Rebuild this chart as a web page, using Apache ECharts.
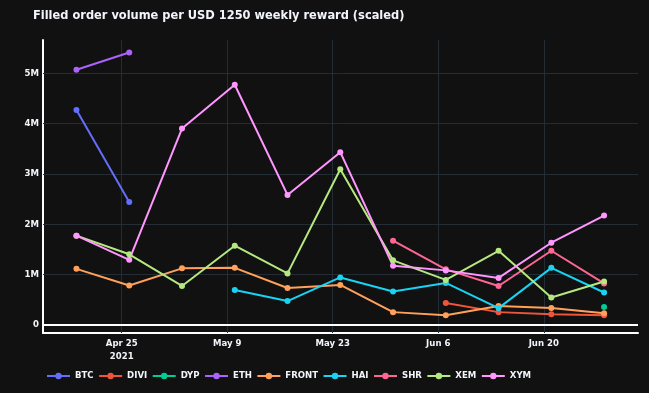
<!DOCTYPE html>
<html>
<head>
<meta charset="utf-8">
<script src="https://cdn.jsdelivr.net/npm/echarts@6/dist/echarts.min.js"></script>
<style>
html,body{margin:0;padding:0;background:#111111;}
#chart{width:649px;height:393px;}
</style>
</head>
<body>
<div id="chart"></div>
<script>
// Weekly dates
const dates = ['2021-04-19','2021-04-26','2021-05-03','2021-05-10','2021-05-17','2021-05-24','2021-05-31','2021-06-07','2021-06-14','2021-06-21','2021-06-28'];
// Tick dates and labels
const tickDates = ['2021-04-25','2021-05-09','2021-05-23','2021-06-06','2021-06-20'];
const tickLabels = ['Apr 25\n2021','May 9','May 23','Jun 6','Jun 20'];
const yTicks = [0, 1e6, 2e6, 3e6, 4e6, 5e6];
const yTickLabels = ['0','1M','2M','3M','4M','5M'];

const BTC   = [4.27e6, 2.44e6, null, null, null, null, null, null, null, null, null];
const DIVI  = [null, null, null, null, null, null, null, 0.43e6, 0.25e6, 0.21e6, 0.19e6];
const DYP   = [null, null, null, null, null, null, null, null, null, null, 0.35e6];
const ETH   = [5.07e6, 5.41e6, null, null, null, null, null, null, null, null, null];
const FRONT = [1.11e6, 0.78e6, 1.12e6, 1.13e6, 0.73e6, 0.79e6, 0.25e6, 0.19e6, 0.37e6, 0.33e6, 0.23e6];
const HAI   = [null, null, null, 0.69e6, 0.47e6, 0.94e6, 0.66e6, 0.83e6, 0.33e6, 1.13e6, 0.64e6];
const SHR   = [null, null, null, null, null, null, 1.67e6, 1.10e6, 0.77e6, 1.47e6, 0.82e6];
const XEM   = [1.77e6, 1.40e6, 0.77e6, 1.57e6, 1.02e6, 3.09e6, 1.28e6, 0.89e6, 1.47e6, 0.54e6, 0.86e6];
const XYM   = [1.77e6, 1.29e6, 3.90e6, 4.77e6, 2.58e6, 3.43e6, 1.17e6, 1.08e6, 0.93e6, 1.63e6, 2.17e6];

const seriesNames = ['BTC','DIVI','DYP','ETH','FRONT','HAI','SHR','XEM','XYM'];
const seriesValues = [BTC, DIVI, DYP, ETH, FRONT, HAI, SHR, XEM, XYM];
const colors = ['#636efa','#EF553B','#00cc96','#ab63fa','#FFA15A','#19d3f3','#FF6692','#B6E880','#FF97FF'];

const DAY = 86400000;
const base = Date.parse(tickDates[0] + 'T00:00:00Z');
const toDay = d => (Date.parse(d + 'T00:00:00Z') - base) / DAY;
const tickDays = tickDates.map(toDay);
const xs = dates.map(toDay);

const font = '"DejaVu Sans Condensed", "DejaVu Sans", sans-serif';
const txt = '#f2f5fa';
const gridColor = '#242c36';

function xLabel(v) {
  for (let i = 0; i < tickDays.length; i++) {
    if (Math.abs(v - tickDays[i]) < 1e-6) return tickLabels[i];
  }
  return '';
}
function yLabel(v) {
  for (let i = 0; i < yTicks.length; i++) {
    if (Math.abs(v - yTicks[i]) < 1) return yTickLabels[i];
  }
  return '';
}

// Gridlines drawn through the axes' scales (markLines on an empty helper series)
const gridSeries = {
  name: '_grid',
  type: 'line',
  data: [],
  silent: true,
  z: 1,
  markLine: {
    silent: true,
    symbol: 'none',
    animation: false,
    label: { show: false },
    lineStyle: { color: gridColor, width: 1, type: 'solid' },
    emphasis: { disabled: true },
    data: tickDays.map(d => ({ xAxis: d })).concat(yTicks.slice(1).map(v => ({ yAxis: v }))),
    z: 1
  }
};
const zeroSeries = {
  name: '_zero',
  type: 'line',
  data: [],
  silent: true,
  z: 2,
  markLine: {
    silent: true,
    symbol: 'none',
    animation: false,
    label: { show: false },
    lineStyle: { color: '#ffffff', width: 2, type: 'solid' },
    emphasis: { disabled: true },
    data: [{ yAxis: 0 }],
    z: 2
  }
};

const series = [gridSeries, zeroSeries].concat(seriesNames.map((name, i) => ({
  name: name,
  type: 'line',
  data: xs.map((x, j) => [x, seriesValues[i][j]]),
  connectNulls: false,
  symbol: 'circle',
  symbolSize: 6,
  showSymbol: true,
  lineStyle: { width: 2, color: colors[i] },
  itemStyle: { color: colors[i] },
  emphasis: { disabled: true },
  z: 3
})));

const chart = echarts.init(document.getElementById('chart'), null, { renderer: 'canvas' });
chart.setOption({
  backgroundColor: '#111111',
  animation: false,
  color: colors,
  title: {
    text: 'Filled order volume per USD 1250 weekly reward (scaled)',
    left: 28, top: 4,
    textStyle: { color: txt, fontFamily: font, fontSize: 12.7, fontWeight: 'bold' }
  },
  grid: { left: 43, right: 11, top: 40, bottom: 60, containLabel: false },
  xAxis: {
    type: 'value',
    min: -10.44, max: 68.5,
    axisLine: { show: true, onZero: false, lineStyle: { color: '#ffffff', width: 2 } },
    axisTick: { show: false, customValues: tickDays },
    splitLine: { show: false },
    axisLabel: {
      show: true, customValues: tickDays,
      color: txt, fontFamily: font, fontSize: 9.5, fontWeight: 'bold', margin: 4, lineHeight: 13,
      formatter: xLabel
    }
  },
  yAxis: {
    type: 'value',
    min: -0.165e6, max: 5.66e6,
    axisLine: { show: true, onZero: false, lineStyle: { color: '#ffffff', width: 2 } },
    axisTick: { show: false, customValues: yTicks },
    splitLine: { show: false },
    axisLabel: {
      show: true, customValues: yTicks,
      color: txt, fontFamily: font, fontSize: 9.5, fontWeight: 'bold', margin: 4,
      formatter: yLabel
    }
  },
  legend: {
    orient: 'horizontal',
    left: 41, top: 366,
    itemWidth: 23, itemHeight: 8, itemGap: 4.5,
    data: seriesNames,
    textStyle: { color: txt, fontFamily: font, fontSize: 9.5, fontWeight: 'bold' },
    inactiveColor: '#555'
  },
  series: series
});
</script>
</body>
</html>
